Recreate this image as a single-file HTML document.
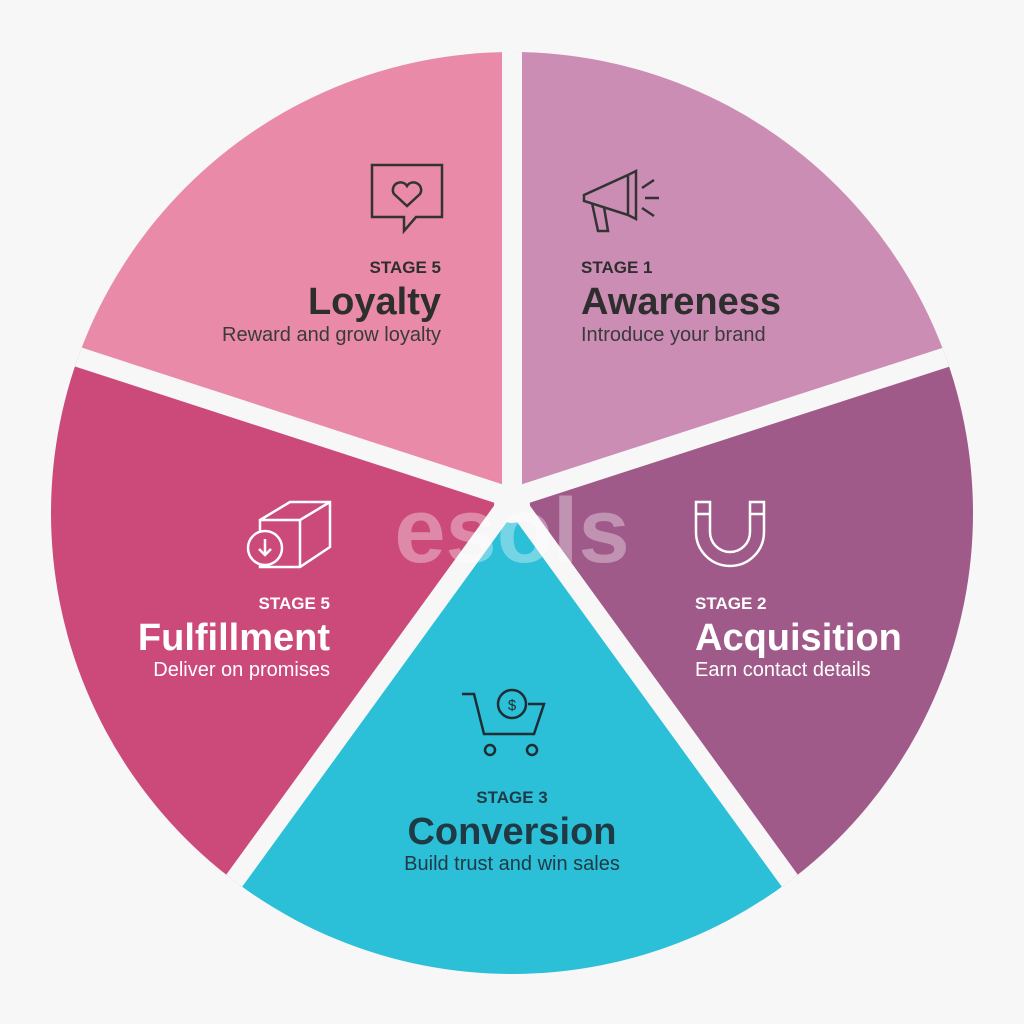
<!DOCTYPE html>
<html style="margin:0;height:1024px;overflow:hidden"><head><style>
body{margin:0;background:#f7f7f8;width:1024px;height:1024px;overflow:hidden}
svg{display:block}
text{font-family:"Liberation Sans",Arial,sans-serif}
</style></head><body>
<svg width="1024" height="1024" viewBox="0 0 1024 1024">
<rect width="1024" height="1024" fill="#f7f7f8"/>
<defs><clipPath id="c"><circle cx="512" cy="513" r="461"/></clipPath></defs>
<g clip-path="url(#c)">
<polygon points="512,498 512,-100 -400,200" fill="#e98aa9"/>
<polygon points="512,498 512,-100 1400,210" fill="#cc8db5"/>
<polygon points="512,498 1400,210 1100,1300" fill="#a05a8a"/>
<polygon points="512,498 1100,1300 -80,1300" fill="#2bbfd8"/>
<polygon points="512,498 -80,1300 -400,200" fill="#cc4a7a"/>
<g stroke="#f7f7f8" stroke-width="20" fill="none">
<line x1="512" y1="498" x2="512" y2="-100"/>
<line x1="512" y1="498" x2="1400" y2="210"/>
<line x1="512" y1="498" x2="-380" y2="208"/>
<line x1="512" y1="498" x2="1060" y2="1253"/>
<line x1="512" y1="498" x2="-36" y2="1253"/>
</g>
<circle cx="512" cy="505" r="18" fill="#f7f7f8"/>
</g>
<g fill="none" stroke="#333" stroke-width="2.5">
<path d="M372,165 h70 v52 h-26 l-12,14 v-14 h-32 z"/>
<path d="M407,206 l-13,-12 a7,7 0 0 1 13,-8 a7,7 0 0 1 13,8 z"/>
<path d="M584,195 l44,-20 v40 l-44,-14 z M592,203 l6,28 h10 l-4,-24 M628,175 l8,-4 v48 l-8,-4"/>
<path d="M642,188 l12,-8 M645,198 h14 M642,208 l12,8"/>
</g>
<g fill="none" stroke="#fff" stroke-width="2.5">
<path d="M260,520 l30,-18 h40 v45 l-30,20 h-40 z M260,520 h40 v47 M300,520 l30,-18"/>
<circle cx="265" cy="548" r="17" fill="#cc4a7a"/>
<path d="M265,539 v16 M259,549 l6,6 l6,-6"/>
<path d="M696,502 v30 a34,34 0 0 0 68,0 v-30 h-14 v30 a20,20 0 0 1 -40,0 v-30 z M696,514 h14 M750,514 h14"/>
</g>
<g fill="none" stroke="#1f2d33" stroke-width="2.5">
<path d="M462,694 h12 l10,40 h50 l10,-30 h-16"/>
<circle cx="512" cy="704" r="14"/>
<circle cx="490" cy="750" r="5"/><circle cx="532" cy="750" r="5"/>
</g>
<text x="512" y="710" font-size="15" fill="#1f2d33" text-anchor="middle">$</text>
<g font-weight="bold">
<text x="441" y="273" font-size="17" fill="#2e2e2e" text-anchor="end">STAGE 5</text>
<text x="441" y="314" font-size="38" fill="#2e2e2e" text-anchor="end">Loyalty</text>
<text x="581" y="273" font-size="17" fill="#2e2e2e">STAGE 1</text>
<text x="581" y="314" font-size="38" fill="#2e2e2e">Awareness</text>
<text x="695" y="609" font-size="17" fill="#fff">STAGE 2</text>
<text x="695" y="650" font-size="38" fill="#fff">Acquisition</text>
<text x="330" y="609" font-size="17" fill="#fff" text-anchor="end">STAGE 5</text>
<text x="330" y="650" font-size="38" fill="#fff" text-anchor="end">Fulfillment</text>
<text x="512" y="803" font-size="17" fill="#1f3a44" text-anchor="middle">STAGE 3</text>
<text x="512" y="844" font-size="38" fill="#1f3a44" text-anchor="middle">Conversion</text>
</g>
<text x="441" y="341" font-size="20" fill="#3a3a3a" text-anchor="end">Reward and grow loyalty</text>
<text x="581" y="341" font-size="20" fill="#3a3a3a">Introduce your brand</text>
<text x="695" y="676" font-size="20" fill="#fff">Earn contact details</text>
<text x="330" y="676" font-size="20" fill="#fff" text-anchor="end">Deliver on promises</text>
<text x="512" y="870" font-size="20" fill="#1f3a44" text-anchor="middle">Build trust and win sales</text>
<text x="512" y="562" font-size="92" font-weight="bold" fill="#fff" fill-opacity="0.35" text-anchor="middle">esols</text>
</svg>
</body></html>
